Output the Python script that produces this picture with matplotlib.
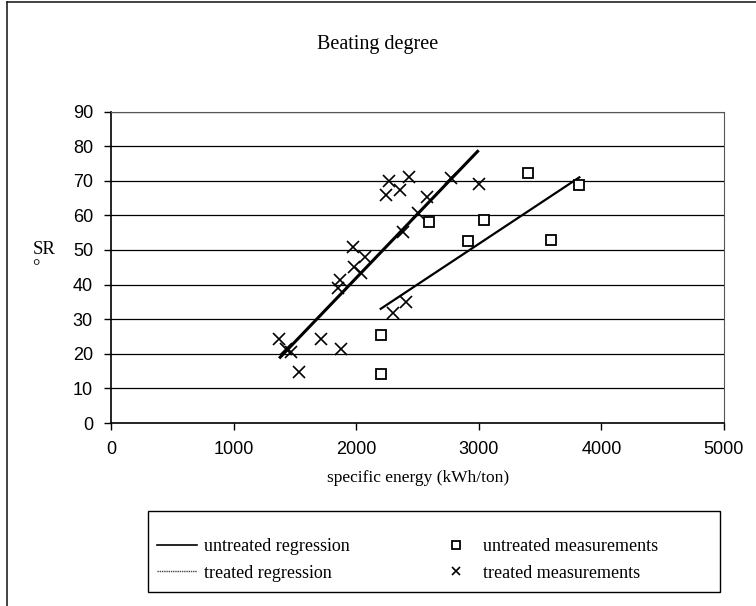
import numpy as np
import matplotlib
matplotlib.use('Agg')
import matplotlib.pyplot as plt
from matplotlib.lines import Line2D
from matplotlib.patches import Rectangle

# datos (energia especifica kWh/ton, grado SR)
untreated_x = [2200, 2200, 2590, 2910, 3040, 3400, 3590, 3820]
untreated_y = [25.4, 14.3, 58.0, 52.5, 58.8, 72.2, 53.0, 68.7]

treated_x = [1370, 1430, 1470, 1530, 1710, 1850, 1870, 1880, 1970, 1980, 2040, 2070,
             2240, 2270, 2300, 2360, 2380, 2410, 2430, 2500, 2580, 2770, 3000]
treated_y = [24.2, 21.5, 20.5, 14.8, 24.2, 39.0, 41.3, 21.5, 50.8, 45.0, 43.4, 48.1,
             65.9, 70.0, 31.7, 67.3, 55.3, 35.1, 71.0, 60.8, 65.2, 70.7, 69.1]

# extremos de las rectas de regresion
reg_untreated_x = [2200, 3820]
reg_untreated_y = [33.0, 71.0]
reg_treated_x = [1380, 2990]
reg_treated_y = [19.0, 78.5]

xticks = [0, 1000, 2000, 3000, 4000, 5000]
yticks = list(range(0, 100, 10))

W, H = 756, 606
fig = plt.figure(figsize=(W/100, H/100), dpi=100)
sans = 'Liberation Sans'
serif = 'Liberation Serif'

# marco exterior (solo arriba e izquierda, la imagen esta recortada)
fig.add_artist(Line2D([7/W, 1], [1-2/H, 1-2/H], transform=fig.transFigure,
                      color='#222222', linewidth=1.2))
fig.add_artist(Line2D([7/W, 7/W], [1-2/H, 0], transform=fig.transFigure,
                      color='#222222', linewidth=1.2))

ax = fig.add_axes([111/W, 1-423/H, (724-111)/W, (423-111.6)/H])

for yv in yticks[1:]:
    ax.axhline(yv, color='black', linewidth=0.9, zorder=1)

ax.plot(reg_treated_x, reg_treated_y, color='black', linewidth=2.2, zorder=3)
ax.plot(reg_untreated_x, reg_untreated_y, color='black', linewidth=1.6, zorder=3)
ax.plot(untreated_x, untreated_y, linestyle='none', marker='s', markersize=7,
        markerfacecolor='white', markeredgecolor='black', markeredgewidth=1.3, zorder=4)
ax.plot(treated_x, treated_y, linestyle='none', marker='x', markersize=8.5,
        color='black', markeredgewidth=1.2, zorder=4)

ax.set_xlim(0, 5000)
ax.set_ylim(0, 90)
ax.set_xticks(xticks)
ax.set_yticks(yticks)
ax.tick_params(direction='out', length=5, width=1, labelsize=13, pad=8)
for lab in ax.get_xticklabels() + ax.get_yticklabels():
    lab.set_family(sans)
ax.spines['left'].set_linewidth(1.2)
ax.spines['bottom'].set_linewidth(1.2)
ax.spines['top'].set_color('#555555')
ax.spines['top'].set_linestyle((0, (2, 1)))
ax.spines['right'].set_color('#555555')
ax.spines['right'].set_linestyle((0, (2, 1)))

fig.text(378/W, 1-45/H, 'Beating degree', ha='center', va='center', family=serif, fontsize=14.5)
fig.text(418/W, 1-478/H, 'specific energy (kWh/ton)', ha='center', va='center', family=serif, fontsize=12.5)
fig.text(44/W, 1-250/H, 'SR', ha='center', va='center', family=serif, fontsize=13.5)
fig.text(36/W, 1-268/H, '°', ha='center', va='center', family=serif, fontsize=13.5)

# recuadro de la leyenda
fig.patches.append(Rectangle((148/W, 1-592/H), (720-148)/W, (592-511)/H, transform=fig.transFigure,
                             fill=False, edgecolor='black', linewidth=1.0))

handles = [
    Line2D([], [], color='black', linewidth=1.2),
    Line2D([], [], color='#444444', linewidth=1.0, linestyle=(0, (1, 0.6))),
    Line2D([], [], linestyle='none', marker='s', markersize=6, markerfacecolor='white',
           markeredgecolor='black', markeredgewidth=1.3),
    Line2D([], [], linestyle='none', marker='x', markersize=6, color='black', markeredgewidth=1.2),
]
labels = ['untreated regression', 'treated regression', 'untreated measurements', 'treated measurements']
leg = fig.legend(handles, labels, ncol=2, loc='center left',
                 bbox_to_anchor=(157/W, 1-560/H), borderaxespad=0, borderpad=0,
                 prop={'family': serif, 'size': 13}, frameon=False,
                 handlelength=2.2, handletextpad=0.4, labelspacing=0.5, columnspacing=4.8)

fig.savefig('out.png', dpi=100)
